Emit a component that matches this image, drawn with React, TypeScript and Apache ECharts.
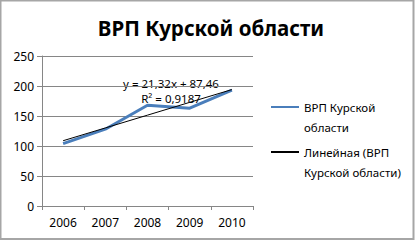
import React, { useEffect, useRef } from "react";
import * as echarts from "echarts";

const title = "ВРП Курской области";
const categories = ["2006", "2007", "2008", "2009", "2010"];
const seriesName = "ВРП Курской области";
const trendName = "Линейная (ВРП Курской области)";
const values = [104, 128, 168, 163, 193];
const trendSlope = 21.32;
const trendIntercept = 87.46;
const equationText = "y = 21,32x + 87,46";
const r2Text = "R² = 0,9187";
const yTicks = { min: 0, max: 250, interval: 50 };

// leading blank line keeps the legend line on the first text line
const legendLabels: Record<string, string> = {
  [seriesName]: "\nВРП Курской\nобласти",
  [trendName]: "\nЛинейная (ВРП\nКурской области)",
};

const blue = "#4A7EBB";

export default function App() {
  const ref = useRef<HTMLDivElement>(null);
  useEffect(() => {
    document.body.style.margin = "0";
    const chart = echarts.init(ref.current!, null, { renderer: "svg" });
    const trend = categories.map((_, i) => +(trendIntercept + trendSlope * (i + 1)).toFixed(2));
    const font = "Noto Sans";
    const legendText = {
      fontFamily: font,
      fontSize: 11.5,
      color: "#000",
      lineHeight: 20,
    };
    const legendBase = {
      orient: "vertical",
      left: 270,
      itemWidth: 28,
      itemHeight: 14,
      padding: 0,
      itemStyle: { opacity: 0 },
      formatter: (n: string) => legendLabels[n] || n,
      textStyle: legendText,
    };
    chart.setOption({
      animation: false,
      backgroundColor: "#ffffff",
      title: {
        text: title,
        left: 206,
        textAlign: "center",
        top: 12,
        textStyle: { fontFamily: font, fontSize: 20.5, fontWeight: "bold", color: "#000" },
      },
      grid: { left: 42, right: 163, top: 56, bottom: 35, containLabel: false },
      xAxis: {
        type: "category",
        data: categories,
        boundaryGap: true,
        axisLine: { lineStyle: { color: "#868686", width: 1 } },
        axisTick: { show: true, length: 4, lineStyle: { color: "#868686" } },
        axisLabel: { fontFamily: font, fontSize: 12, color: "#000", margin: 10 },
      },
      yAxis: {
        type: "value",
        min: yTicks.min,
        max: yTicks.max,
        interval: yTicks.interval,
        axisLine: { show: true, lineStyle: { color: "#868686", width: 1 } },
        axisTick: { show: true, length: 5, lineStyle: { color: "#868686" } },
        splitLine: { lineStyle: { color: "#868686", width: 1 } },
        axisLabel: { fontFamily: font, fontSize: 12, color: "#000", margin: 8 },
      },
      legend: [
        { ...legendBase, top: 77, data: [seriesName] },
        { ...legendBase, top: 122, data: [trendName] },
      ],
      series: [
        {
          name: seriesName,
          type: "line",
          data: values,
          symbol: "none",
          lineStyle: { color: blue, width: 3 },
          itemStyle: { color: blue },
          z: 2,
        },
        {
          name: trendName,
          type: "line",
          data: trend,
          symbol: "none",
          lineStyle: { color: "#000", width: 1 },
          itemStyle: { color: "#000" },
          z: 3,
        },
      ],
      graphic: [
        {
          type: "rect",
          shape: { x: 0.5, y: 0.5, width: 413, height: 238.5 },
          style: { fill: "none", stroke: "#a6a6a6", lineWidth: 2 },
          silent: true,
        },
        {
          type: "text",
          x: 171,
          y: 76,
          style: {
            text: equationText,
            fontFamily: font,
            fontSize: 11.5,
            lineHeight: 14,
            fill: "#000",
            align: "center",
          },
        },
        {
          type: "text",
          x: 171,
          y: 91,
          style: {
            text: r2Text,
            fontFamily: font,
            fontSize: 11.5,
            lineHeight: 14,
            fill: "#000",
            align: "center",
          },
        },
      ],
    });
    return () => chart.dispose();
  }, []);
  return (
    <div
      ref={ref}
      style={{ position: "fixed", left: 0, top: 0, width: 416, height: 241, background: "#fff" }}
    />
  );
}
